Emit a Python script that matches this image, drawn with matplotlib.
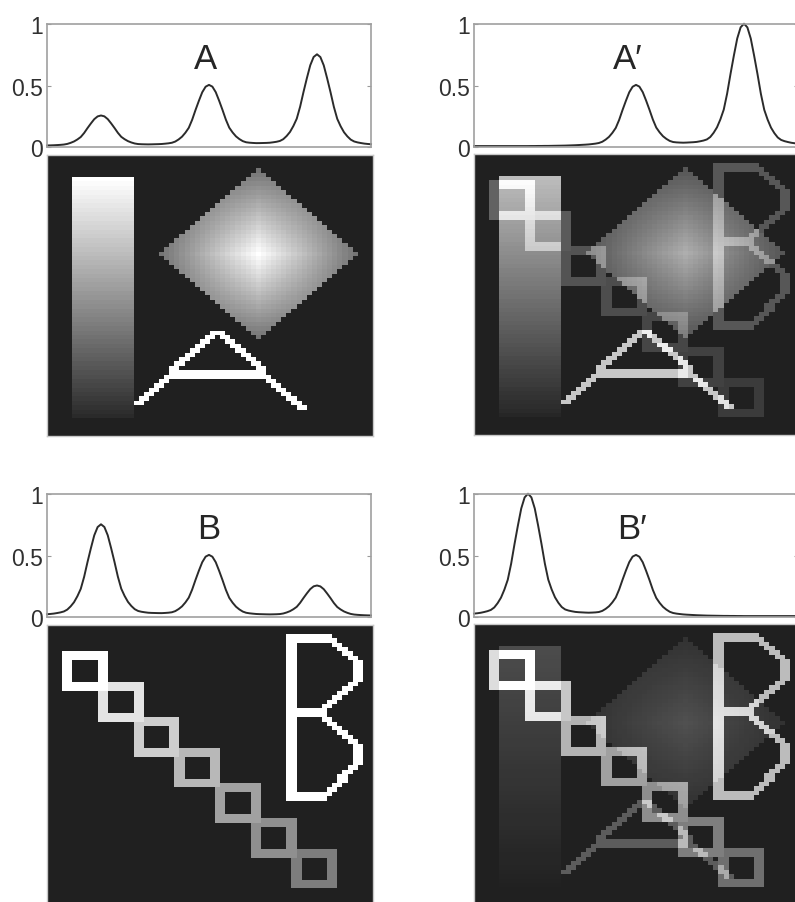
import numpy as np
import matplotlib.pyplot as plt
from matplotlib.colors import LinearSegmentedColormap

# ---- curve data ----
# peaks sit on a 0..96 sample grid across each plot
peak_pos = [16, 48, 80]
heights_A = [0.25, 0.50, 0.75]
heights_A2 = [0.00, 0.50, 1.00]
heights_B = [0.75, 0.50, 0.25]
heights_B2 = [1.00, 0.50, 0.00]

# shape of one unit peak, value vs distance (grid steps) from its centre
peak_shape = [1.00, 0.97, 0.88, 0.74, 0.59, 0.43, 0.30, 0.22, 0.155, 0.11,
              0.075, 0.055, 0.045, 0.038, 0.032, 0.028, 0.025, 0.022, 0.019,
              0.017, 0.015, 0.013, 0.012, 0.011, 0.010, 0.009, 0.008, 0.008,
              0.007, 0.007, 0.006, 0.006, 0.005]

# ---- image data (64x64 pixel grids, row 0 at the top) ----
N = 64
bar_rows = (5, 59)
bar_cols = (5, 16)
bar_levels = (1.0, 0.05)          # top, bottom
diamond_center = (22, 41)
diamond_radius = 19
diamond_levels = (0.35, 1.0)      # rim, centre
letter_a_strokes = [((40, 32), (56, 17)), ((40, 33), (57, 49)), ((49, 25), (49, 42))]
letter_a_level = 1.0
square_rows = [6, 13, 21, 28, 36, 44, 51]
square_cols = [3, 10, 17, 25, 33, 40, 48]
square_levels = [1.0, 0.88, 0.78, 0.68, 0.58, 0.50, 0.42]
square_size = 9
letter_b_strokes = [((2, 47), (39, 47)), ((2, 47), (2, 54)), ((2, 54), (8, 60)),
                    ((8, 60), (12, 60)), ((12, 60), (19, 53)), ((19, 47), (19, 53)),
                    ((20, 53), (27, 60)), ((27, 60), (31, 60)), ((31, 60), (38, 54)),
                    ((38, 47), (38, 54))]
letter_b_level = 1.0

# layer weights of the mixed images: bar, diamond, letter A, squares, letter B
weights_A2 = [0.70, 0.64, 0.75, 0.30, 0.25]
weights_B2 = [0.20, 0.22, 0.27, 0.85, 0.70]


def build_curve(heights):
    k = np.arange(97)
    shape = np.asarray(peak_shape)
    y = np.zeros(len(k))
    for pos, h in zip(peak_pos, heights):
        d = np.minimum(np.abs(k - pos), len(shape) - 1)
        y += h * shape[d]
    return k / 96, y


def draw_stroke(img, p0, p1, value):
    (r0, c0), (r1, c1) = p0, p1
    n = max(abs(r1 - r0), abs(c1 - c0))
    for t in range(n + 1):
        r = int(round(r0 + (r1 - r0) * t / n))
        c = int(round(c0 + (c1 - c0) * t / n))
        if r0 == r1:
            img[r:r + 2, c] = np.maximum(img[r:r + 2, c], value)
        else:
            img[r, c:c + 2] = np.maximum(img[r, c:c + 2], value)


# layers
bar = np.zeros((N, N))
bar[bar_rows[0]:bar_rows[1] + 1, bar_cols[0]:bar_cols[1] + 1] = \
    np.linspace(bar_levels[0], bar_levels[1], bar_rows[1] - bar_rows[0] + 1)[:, None]

rr, cc = np.mgrid[0:N, 0:N]
dy = np.abs(rr - diamond_center[0])
dx = np.abs(cc - diamond_center[1])
R = diamond_radius + 1
prod = (1 - dx / R) * (1 - dy / R)
diamond = np.where(dx + dy <= diamond_radius,
                   diamond_levels[0] + (diamond_levels[1] - diamond_levels[0]) * prod, 0)

letter_a = np.zeros((N, N))
for p0, p1 in letter_a_strokes:
    draw_stroke(letter_a, p0, p1, letter_a_level)

squares = np.zeros((N, N))
for r, c, v in zip(square_rows, square_cols, square_levels):
    sq = np.full((square_size, square_size), v)
    sq[2:-2, 2:-2] = 0
    region = squares[r:r + square_size, c:c + square_size]
    np.maximum(region, sq, out=region)

letter_b = np.zeros((N, N))
for p0, p1 in letter_b_strokes:
    draw_stroke(letter_b, p0, p1, letter_b_level)

layers = [bar, diamond, letter_a, squares, letter_b]
img_A = np.maximum.reduce([bar, diamond, letter_a])
img_B = np.maximum(squares, letter_b)
img_A2 = np.clip(sum(w * l for w, l in zip(weights_A2, layers)), 0, 1)
img_B2 = np.clip(sum(w * l for w, l in zip(weights_B2, layers)), 0, 1)

cmap = LinearSegmentedColormap.from_list('dark_gray', ['#202020', '#ffffff'])

W, H = 795, 903
fig = plt.figure(figsize=(W / 100, H / 100), dpi=100)
fig.patch.set_facecolor('white')


def px_axes(x0, y0, w, h):
    return fig.add_axes([x0 / W, 1 - (y0 + h) / H, w / W, h / H])


def line_panel(x0, y0, heights, label, label_x):
    ax = px_axes(x0, y0, 324, 123)
    x, y = build_curve(heights)
    ax.plot(x, y, color='#2b2b2b', lw=1.4, clip_on=False)
    ax.set_xlim(0, 1)
    ax.set_ylim(0, 1)
    ax.set_xticks([])
    ax.set_yticks([0, 0.5, 1])
    ax.set_yticklabels(['0', '0.5', '1'])
    ax.tick_params(axis='y', direction='in', length=3, width=0.8, color='#9a9a9a',
                   labelsize=16.5, labelcolor='#303030', pad=3, right=True)
    for lab in ax.get_yticklabels():
        lab.set_family(['Liberation Sans', 'DejaVu Sans'])
    for s in ax.spines.values():
        s.set_color('#a0a0a0')
        s.set_linewidth(1.2)
    ax.text(label_x, 0.72, label, transform=ax.transAxes, ha='center', va='center',
            fontsize=25, color='#262626', family=['Liberation Sans', 'DejaVu Sans'])
    return ax


def image_panel(x0, y0, img):
    ax = px_axes(x0, y0, 326, 281)
    ax.imshow(img, cmap=cmap, vmin=0, vmax=1, interpolation='nearest', aspect='auto')
    ax.set_xticks([])
    ax.set_yticks([])
    for s in ax.spines.values():
        s.set_color('#c8c8c8')
        s.set_linewidth(1.0)
    return ax


line_panel(47, 25, heights_A, 'A', 0.488)
line_panel(474, 25, heights_A2, 'A\u2032', 0.475)
line_panel(47, 495, heights_B, 'B', 0.50)
line_panel(474, 495, heights_B2, 'B\u2032', 0.488)

image_panel(47, 156, img_A)
image_panel(474, 155, img_A2)
image_panel(47, 626, img_B)
image_panel(474, 625, img_B2)

fig.savefig('out.png', dpi=100, facecolor='white')
